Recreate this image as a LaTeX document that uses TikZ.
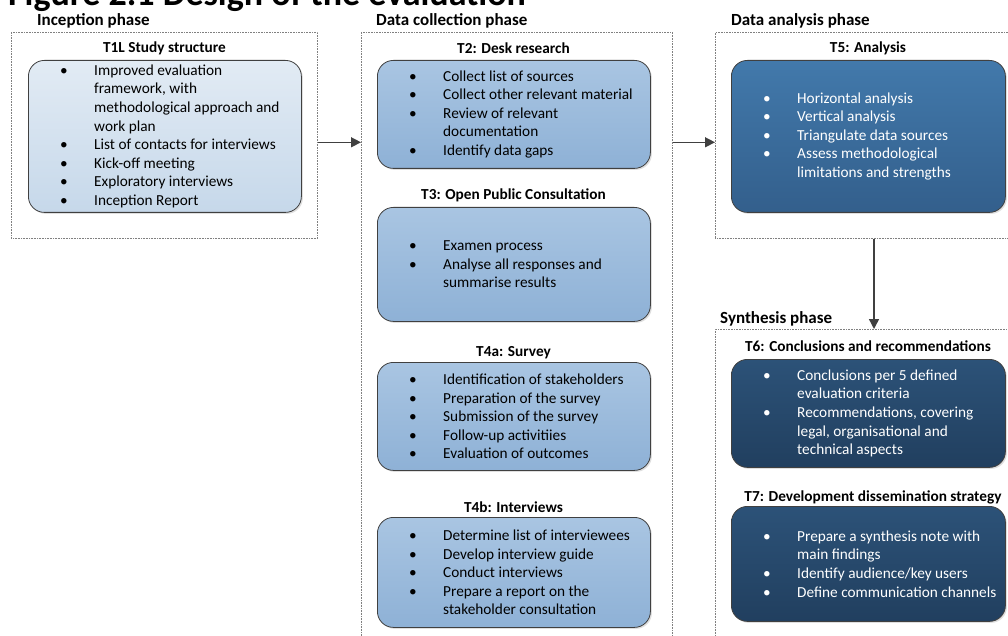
\documentclass[tikz,border=0pt]{standalone}
\usepackage{fontspec}
\setmainfont{Carlito}
\usetikzlibrary{arrows.meta,shadows}
\definecolor{lb1}{HTML}{E2EBF4}
\definecolor{lb2}{HTML}{C6D8EA}
\definecolor{mb1}{HTML}{A9C5E2}
\definecolor{mb2}{HTML}{8EB1D6}
\definecolor{db1}{HTML}{4279AB}
\definecolor{db2}{HTML}{335F8C}
\definecolor{nb1}{HTML}{2C5278}
\definecolor{nb2}{HTML}{213F5F}
\definecolor{edgec}{HTML}{404040}
\definecolor{arrc}{HTML}{404040}
\newcommand\bu{\makebox[34pt][l]{\textbullet}}
\newcommand\ct{\hspace*{34pt}}
\begin{document}
\begin{tikzpicture}[x=1pt,y=-1pt,
 phasebox/.style={draw=gray, densely dotted, line width=0.6pt, fill=white, inner sep=0pt, anchor=north west},
 taskbox/.style={draw=edgec, line width=0.8pt, rounded corners=16pt, inner sep=0pt, anchor=north west, drop shadow={shadow xshift=1.5pt, shadow yshift=-1.5pt, opacity=0.25}},
 lightbox/.style={taskbox, top color=lb1, bottom color=lb2},
 midbox/.style={taskbox, top color=mb1, bottom color=mb2},
 darkbox/.style={taskbox, top color=db1, bottom color=db2},
 navybox/.style={taskbox, top color=nb1, bottom color=nb2},
 phaselabel/.style={font=\fontsize{17}{20}\selectfont\bfseries, anchor=west, inner sep=0pt},
 tasktitle/.style={font=\fontsize{15.3}{18}\selectfont\bfseries, inner sep=0pt},
 items/.style={font=\fontsize{15.3}{18.6}\selectfont, align=left, anchor=west, inner sep=0pt, xshift=32pt},
 whiteitems/.style={items, text=white},
 arr/.style={draw=arrc, line width=1.4pt, -{Triangle[length=10pt,width=10pt]}},
]
\useasboundingbox (0,0) rectangle (1008,636);
\clip (0,0) rectangle (1008,636);
\fill[white] (0,0) rectangle (1008,636);

\node[font=\fontsize{36}{40}\selectfont\bfseries, anchor=base west, inner sep=0pt] (fig) at (8,6) {Figure 2.1 Design of the evaluation};

% phase boxes
\node[phasebox, minimum width=306pt, minimum height=206pt] (incep) at (11,32) {};
\node[phasebox, minimum width=311pt, minimum height=620pt] (dcol) at (361,32) {};
\node[phasebox, minimum width=300pt, minimum height=206pt] (danal) at (715,32) {};
\node[phasebox, minimum width=300pt, minimum height=320pt] (synth) at (715,329) {};

\node[phaselabel] (l1) at (37,21) {Inception phase};
\node[phaselabel] (l2) at (376,21) {Data collection phase};
\node[phaselabel] (l3) at (731,21) {Data analysis phase};
\node[phaselabel] (l4) at (720,319) {Synthesis phase};

% task boxes
\node[lightbox, minimum width=273pt, minimum height=152pt] (t1) at (28,60) {};
\node[midbox, minimum width=273pt, minimum height=108pt] (t2) at (377,60) {};
\node[midbox, minimum width=273pt, minimum height=114pt] (t3) at (377,207) {};
\node[midbox, minimum width=273pt, minimum height=108pt] (t4a) at (377,362) {};
\node[midbox, minimum width=273pt, minimum height=110pt] (t4b) at (377,517) {};
\node[darkbox, minimum width=274pt, minimum height=152pt] (t5) at (731,60) {};
\node[navybox, minimum width=274pt, minimum height=108pt] (t6) at (731,359) {};
\node[navybox, minimum width=274pt, minimum height=115pt] (t7) at (731,506) {};

% titles
\node[tasktitle] (h1) at (164.5,48) {T1L Study structure};
\node[tasktitle] (h2) at (513.5,48) {T2: Desk research};
\node[tasktitle] (h3) at (513.5,195) {T3: Open Public Consultation};
\node[tasktitle] (h4a) at (513.5,353) {T4a: Survey};
\node[tasktitle] (h4b) at (513.5,507) {T4b: Interviews};
\node[tasktitle] (h5) at (868,48) {T5: Analysis};
\node[tasktitle] (h6) at (868,346) {T6: Conclusions and recommendations};
\node[tasktitle] (h7) at (873,497) {T7: Development dissemination strategy};

% items
\node[items] (i1) at (t1.west) {\bu Improved evaluation\\ \ct framework, with\\ \ct methodological approach and\\ \ct work plan\\ \bu List of contacts for interviews\\ \bu Kick-off meeting\\ \bu Exploratory interviews\\ \bu Inception Report};
\node[items] (i2) at (t2.west) {\bu Collect list of sources\\ \bu Collect other relevant material\\ \bu Review of relevant\\ \ct documentation\\ \bu Identify data gaps};
\node[items] (i3) at (t3.west) {\bu Examen process\\ \bu Analyse all responses and\\ \ct summarise results};
\node[items] (i4a) at (t4a.west) {\bu Identification of stakeholders\\ \bu Preparation of the survey\\ \bu Submission of the survey\\ \bu Follow-up activitiies\\ \bu Evaluation of outcomes};
\node[items] (i4b) at (t4b.west) {\bu Determine list of interviewees\\ \bu Develop interview guide\\ \bu Conduct interviews\\ \bu Prepare a report on the\\ \ct stakeholder consultation};
\node[whiteitems] (i5) at (t5.west) {\bu Horizontal analysis\\ \bu Vertical analysis\\ \bu Triangulate data sources\\ \bu Assess methodological\\ \ct limitations and strengths};
\node[whiteitems] (i6) at (t6.west) {\bu Conclusions per 5 defined\\ \ct evaluation criteria\\ \bu Recommendations, covering\\ \ct legal, organisational and\\ \ct technical aspects};
\node[whiteitems] (i7) at (t7.west) {\bu Prepare a synthesis note with\\ \ct main findings\\ \bu Identify audience/key users\\ \bu Define communication channels};

% connectors
\coordinate (a1) at ([yshift=-7pt]incep.east);
\draw[arr] (a1) -- (a1 -| dcol.west);
\coordinate (a2) at (a1 -| dcol.east);
\draw[arr] (a2) -- (a2 -| danal.west);
\coordinate (a3) at (874,0);
\draw[arr] (a3 |- danal.south) -- (a3 |- synth.north);
\end{tikzpicture}
\end{document}
